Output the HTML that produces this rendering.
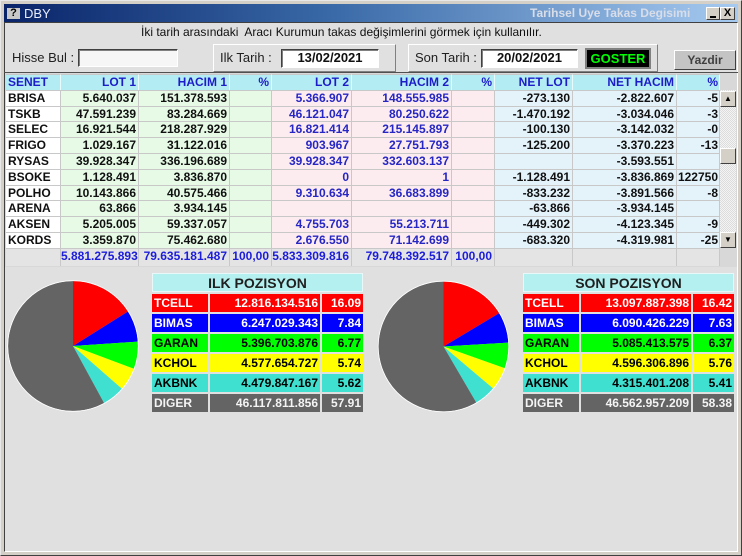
<!DOCTYPE html>
<html><head><meta charset="utf-8">
<style>
*{margin:0;padding:0;box-sizing:border-box}
html,body{width:742px;height:556px;overflow:hidden;background:#d4d0c8;font-family:"Liberation Sans",Arial,sans-serif}
.a{position:absolute}
.win{left:0;top:0;width:742px;height:556px;border:1px solid;border-color:#e8e8e8 #404040 #404040 #e8e8e8;background:#d4d0c8}
.title{left:4px;top:4px;width:734px;height:18px;background:linear-gradient(to right,#0a246a 0%,#3a6aa8 45%,#a6caf0 100%)}
.body{left:4px;top:22px;width:734px;height:530px;background:#e0e0e0;border-top:1px solid #404040;border-left:1px solid #404040;border-right:1px solid #ffffff;border-bottom:1px solid #ffffff}
.sunk{background:#fff;border:1px solid;border-color:#404040 #fff #fff #404040;box-shadow:inset 1px 1px 0 #808080}
.raise{border:1px solid;border-color:#fff #808080 #808080 #fff}
.lbl{font-size:13px;color:#202020;white-space:nowrap}
.row{position:absolute;left:6px;height:17px;display:flex;font-weight:bold;font-size:12px;white-space:nowrap}
.row span{display:block;height:100%;border-top:1px solid #c8c8c8;border-right:1px solid #c8c8c8;text-align:right;padding-right:2px;line-height:15px;overflow:visible}
.row span:nth-child(1){width:55px;text-align:left;padding-left:2px;background:#fff;color:#101010}
.row span:nth-child(2){width:78px;background:#e6fae6;color:#101010}
.row span:nth-child(3){width:91px;background:#e6fae6;color:#101010}
.row span:nth-child(4){width:42px;background:#e6fae6;color:#101010}
.row span:nth-child(5){width:80px;background:#fcecf0;color:#2626c4}
.row span:nth-child(6){width:100px;background:#fcecf0;color:#2626c4}
.row span:nth-child(7){width:43px;background:#fcecf0;color:#2626c4}
.row span:nth-child(8){width:78px;background:#e4f2fa;color:#101010}
.row span:nth-child(9){width:104px;background:#e4f2fa;color:#101010}
.row span:nth-child(10){width:43px;background:#e4f2fa;color:#101010;padding-right:1px}
.row.hd span{background:#b4ecf4 !important;color:#1c1cc8 !important;border-right-color:#e8fafa}
.row.tot span{background:#e4e4e4 !important;color:#1c1cdc !important}
.lg{position:absolute;height:18px;font-weight:bold;font-size:12px;line-height:18px;white-space:nowrap;overflow:hidden}
.n{padding-left:2px}
.v{text-align:right;padding-right:2px}
.red{background:#ff0000;color:#fff}
.blu{background:#0000ff;color:#fff}
.grn{background:#00ff00;color:#000}
.yel{background:#ffff00;color:#000}
.tur{background:#40e0d0;color:#000}
.gry{background:#646464;color:#f4f4f4}
.lh{position:absolute;height:19px;background:#b4f0f0;font-weight:bold;font-size:14px;line-height:19px;text-align:center;color:#202020;border:1px solid #e8f8f8}
</style></head><body>
<div class="a win"></div>
<div class="a title"></div>
<div class="a" style="left:7px;top:8px;width:13px;height:11px;background:#c8c8c8;font-weight:bold;font-size:11px;line-height:11px;text-align:center;color:#000">?</div>
<div class="a" style="left:24px;top:6px;font-size:13px;color:#e8ecf8;line-height:15px">DBY</div>
<div class="a" style="left:530px;top:5px;width:176px;overflow:hidden;white-space:nowrap;font-weight:bold;font-size:12px;color:#d8dde8;line-height:16px">Tarihsel Uye Takas Degisimi</div>
<div class="a raise" style="left:706px;top:7px;width:14px;height:13px;background:#d4d0c8;border-color:#fff #404040 #404040 #fff"><div class="a" style="left:3px;top:8px;width:6px;height:2px;background:#000"></div></div>
<div class="a raise" style="left:720px;top:7px;width:15px;height:13px;background:#d4d0c8;border-color:#fff #404040 #404040 #fff;font-weight:bold;font-size:11px;line-height:11px;text-align:center;color:#000">X</div>

<div class="a body"></div>
<div class="a" style="left:141px;top:25px;font-size:12px;color:#101010;white-space:pre;line-height:15px">İki tarih arasındaki  Aracı Kurumun takas değişimlerini görmek için kullanılır.</div>

<div class="a lbl" style="left:12px;top:50px;line-height:16px">Hisse Bul :</div>
<div class="a sunk" style="left:78px;top:49px;width:100px;height:18px;background:#f6f6f6"></div>

<div class="a raise" style="left:213px;top:44px;width:183px;height:28px"></div>
<div class="a lbl" style="left:220px;top:50px;line-height:16px">Ilk Tarih :</div>
<div class="a sunk" style="left:281px;top:49px;width:98px;height:19px;font-weight:bold;font-size:13px;text-align:center;line-height:16px;color:#101010">13/02/2021</div>

<div class="a raise" style="left:408px;top:44px;width:250px;height:28px"></div>
<div class="a lbl" style="left:415px;top:50px;line-height:16px">Son Tarih :</div>
<div class="a sunk" style="left:481px;top:49px;width:97px;height:19px;font-weight:bold;font-size:13px;text-align:center;line-height:16px;color:#101010">20/02/2021</div>
<div class="a" style="left:585px;top:48px;width:66px;height:21px;background:#000;border:2px solid #808080;font-weight:bold;font-size:13px;color:#00ff00;text-align:center;line-height:17px">GOSTER</div>

<div class="a" style="left:674px;top:50px;width:62px;height:20px;background:#c4c4c4;border:1px solid;border-color:#fff #404040 #404040 #fff;font-weight:bold;font-size:12px;color:#404040;text-align:center;line-height:18px">Yazdir</div>

<div class="a" style="left:4px;top:72px;width:734px;height:1px;background:#505050"></div>
<div class="a" style="left:5px;top:73px;width:732px;height:194px;background:#d8d8d8"></div>

<div class="row hd" style="top:74px;height:17px"><span>SENET</span><span>LOT 1</span><span>HACIM 1</span><span>%</span><span>LOT 2</span><span>HACIM 2</span><span>%</span><span>NET LOT</span><span>NET HACIM</span><span>%</span></div>
<div class="row" style="top:90px"><span>BRISA</span><span>5.640.037</span><span>151.378.593</span><span></span><span>5.366.907</span><span>148.555.985</span><span></span><span>-273.130</span><span>-2.822.607</span><span>-5</span></div>
<div class="row" style="top:106px"><span>TSKB</span><span>47.591.239</span><span>83.284.669</span><span></span><span>46.121.047</span><span>80.250.622</span><span></span><span>-1.470.192</span><span>-3.034.046</span><span>-3</span></div>
<div class="row" style="top:121px"><span>SELEC</span><span>16.921.544</span><span>218.287.929</span><span></span><span>16.821.414</span><span>215.145.897</span><span></span><span>-100.130</span><span>-3.142.032</span><span>-0</span></div>
<div class="row" style="top:137px"><span>FRIGO</span><span>1.029.167</span><span>31.122.016</span><span></span><span>903.967</span><span>27.751.793</span><span></span><span>-125.200</span><span>-3.370.223</span><span>-13</span></div>
<div class="row" style="top:153px"><span>RYSAS</span><span>39.928.347</span><span>336.196.689</span><span></span><span>39.928.347</span><span>332.603.137</span><span></span><span></span><span>-3.593.551</span><span></span></div>
<div class="row" style="top:169px"><span>BSOKE</span><span>1.128.491</span><span>3.836.870</span><span></span><span>0</span><span>1</span><span></span><span>-1.128.491</span><span>-3.836.869</span><span>122750</span></div>
<div class="row" style="top:185px"><span>POLHO</span><span>10.143.866</span><span>40.575.466</span><span></span><span>9.310.634</span><span>36.683.899</span><span></span><span>-833.232</span><span>-3.891.566</span><span>-8</span></div>
<div class="row" style="top:200px"><span>ARENA</span><span>63.866</span><span>3.934.145</span><span></span><span></span><span></span><span></span><span>-63.866</span><span>-3.934.145</span><span></span></div>
<div class="row" style="top:216px"><span>AKSEN</span><span>5.205.005</span><span>59.337.057</span><span></span><span>4.755.703</span><span>55.213.711</span><span></span><span>-449.302</span><span>-4.123.345</span><span>-9</span></div>
<div class="row" style="top:232px"><span>KORDS</span><span>3.359.870</span><span>75.462.680</span><span></span><span>2.676.550</span><span>71.142.699</span><span></span><span>-683.320</span><span>-4.319.981</span><span>-25</span></div>
<div class="row tot" style="top:248px;height:18px"><span></span><span>5.881.275.893</span><span>79.635.181.487</span><span>100,00</span><span>5.833.309.816</span><span>79.748.392.517</span><span>100,00</span><span></span><span></span><span></span></div>

<!-- scrollbar -->
<div class="a" style="left:720px;top:90px;width:16px;height:158px;background:repeating-conic-gradient(#f4f4f4 0 25%,#dcdcdc 0 50%) 0 0/2px 2px"></div>
<div class="a" style="left:720px;top:91px;width:16px;height:16px;background:#d4d0c8;border:1px solid;border-color:#fff #404040 #404040 #fff;font-size:8px;line-height:13px;text-align:center;color:#000">▲</div>
<div class="a" style="left:720px;top:148px;width:16px;height:16px;background:#d4d0c8;border:1px solid;border-color:#fff #404040 #404040 #fff"></div>
<div class="a" style="left:720px;top:232px;width:16px;height:16px;background:#d4d0c8;border:1px solid;border-color:#fff #404040 #404040 #fff;font-size:8px;line-height:13px;text-align:center;color:#000">▼</div>

<svg class="a" style="left:0;top:0" width="742" height="556" viewBox="0 0 742 556">
<g stroke="none">
<path d="M73,346 L73,281 A65,65 0 0 1 128.07,311.48 Z" fill="#ff0000"/>
<path d="M73,346 L128.07,311.48 A65,65 0 0 1 137.85,341.64 Z" fill="#0000ff"/>
<path d="M73,346 L137.85,341.64 A65,65 0 0 1 133.88,368.78 Z" fill="#00ff00"/>
<path d="M73,346 L133.88,368.78 A65,65 0 0 1 121.92,388.80 Z" fill="#ffff00"/>
<path d="M73,346 L121.92,388.80 A65,65 0 0 1 104.10,403.08 Z" fill="#40e0d0"/>
<path d="M73,346 L104.10,403.08 A65,65 0 1 1 73,281 Z" fill="#646464"/>
<path d="M443.5,346.5 L443.5,281.5 A65,65 0 0 1 499.28,313.13 Z" fill="#ff0000"/>
<path d="M443.5,346.5 L499.28,313.13 A65,65 0 0 1 508.38,342.62 Z" fill="#0000ff"/>
<path d="M443.5,346.5 L508.38,342.62 A65,65 0 0 1 504.77,368.21 Z" fill="#00ff00"/>
<path d="M443.5,346.5 L504.77,368.21 A65,65 0 0 1 493.11,388.50 Z" fill="#ffff00"/>
<path d="M443.5,346.5 L493.11,388.50 A65,65 0 0 1 476.28,402.63 Z" fill="#40e0d0"/>
<path d="M443.5,346.5 L476.28,402.63 A65,65 0 1 1 443.5,281.5 Z" fill="#646464"/>
</g>
<circle cx="73" cy="346" r="65.3" fill="none" stroke="#ffffff" stroke-width="0.8"/>
<circle cx="443.5" cy="346.5" r="65.3" fill="none" stroke="#ffffff" stroke-width="0.8"/>
</svg>

<!-- ILK legend -->
<div class="lh" style="left:152px;top:273px;width:211px">ILK POZISYON</div>
<div class="lg n red" style="left:152px;top:294px;width:56px">TCELL</div><div class="lg v red" style="left:210px;top:294px;width:110px">12.816.134.516</div><div class="lg v red" style="left:322px;top:294px;width:41px">16.09</div>
<div class="lg n blu" style="left:152px;top:314px;width:56px">BIMAS</div><div class="lg v blu" style="left:210px;top:314px;width:110px">6.247.029.343</div><div class="lg v blu" style="left:322px;top:314px;width:41px">7.84</div>
<div class="lg n grn" style="left:152px;top:334px;width:56px">GARAN</div><div class="lg v grn" style="left:210px;top:334px;width:110px">5.396.703.876</div><div class="lg v grn" style="left:322px;top:334px;width:41px">6.77</div>
<div class="lg n yel" style="left:152px;top:354px;width:56px">KCHOL</div><div class="lg v yel" style="left:210px;top:354px;width:110px">4.577.654.727</div><div class="lg v yel" style="left:322px;top:354px;width:41px">5.74</div>
<div class="lg n tur" style="left:152px;top:374px;width:56px">AKBNK</div><div class="lg v tur" style="left:210px;top:374px;width:110px">4.479.847.167</div><div class="lg v tur" style="left:322px;top:374px;width:41px">5.62</div>
<div class="lg n gry" style="left:152px;top:394px;width:56px">DIGER</div><div class="lg v gry" style="left:210px;top:394px;width:110px">46.117.811.856</div><div class="lg v gry" style="left:322px;top:394px;width:41px">57.91</div>

<!-- SON legend -->
<div class="lh" style="left:523px;top:273px;width:211px">SON POZISYON</div>
<div class="lg n red" style="left:523px;top:294px;width:56px">TCELL</div><div class="lg v red" style="left:581px;top:294px;width:110px">13.097.887.398</div><div class="lg v red" style="left:693px;top:294px;width:41px">16.42</div>
<div class="lg n blu" style="left:523px;top:314px;width:56px">BIMAS</div><div class="lg v blu" style="left:581px;top:314px;width:110px">6.090.426.229</div><div class="lg v blu" style="left:693px;top:314px;width:41px">7.63</div>
<div class="lg n grn" style="left:523px;top:334px;width:56px">GARAN</div><div class="lg v grn" style="left:581px;top:334px;width:110px">5.085.413.575</div><div class="lg v grn" style="left:693px;top:334px;width:41px">6.37</div>
<div class="lg n yel" style="left:523px;top:354px;width:56px">KCHOL</div><div class="lg v yel" style="left:581px;top:354px;width:110px">4.596.306.896</div><div class="lg v yel" style="left:693px;top:354px;width:41px">5.76</div>
<div class="lg n tur" style="left:523px;top:374px;width:56px">AKBNK</div><div class="lg v tur" style="left:581px;top:374px;width:110px">4.315.401.208</div><div class="lg v tur" style="left:693px;top:374px;width:41px">5.41</div>
<div class="lg n gry" style="left:523px;top:394px;width:56px">DIGER</div><div class="lg v gry" style="left:581px;top:394px;width:110px">46.562.957.209</div><div class="lg v gry" style="left:693px;top:394px;width:41px">58.38</div>
</body></html>
